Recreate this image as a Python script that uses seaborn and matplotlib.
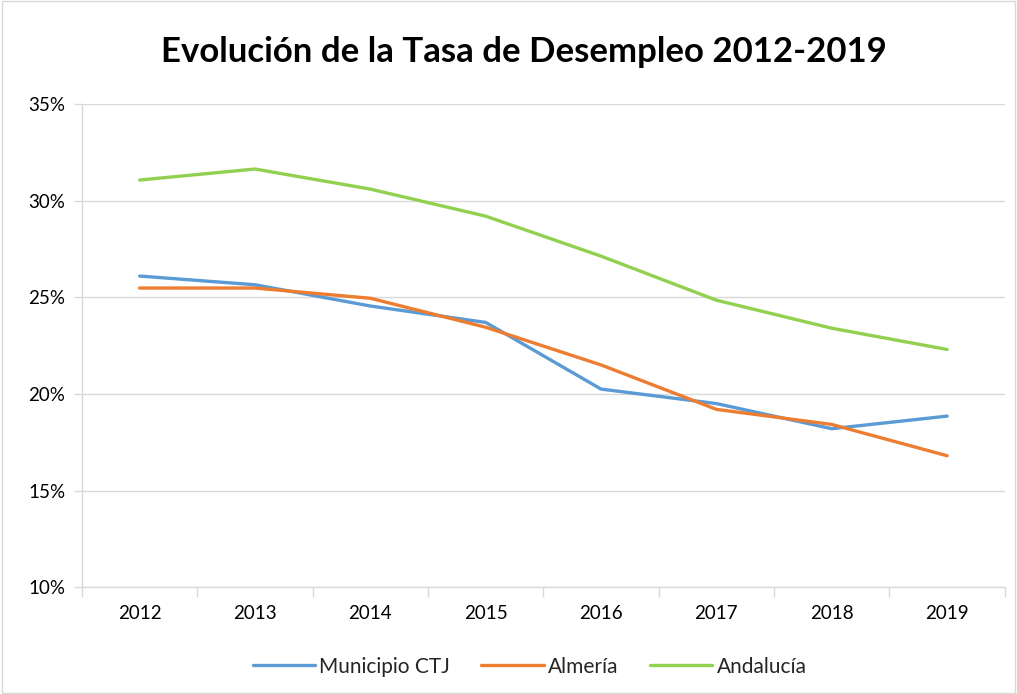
import matplotlib
matplotlib.use("Agg")
import matplotlib.pyplot as plt
import seaborn as sns
import pandas as pd
from matplotlib.patches import Rectangle
from matplotlib.ticker import FuncFormatter, FixedLocator

years = ["2012", "2013", "2014", "2015", "2016", "2017", "2018", "2019"]
municipio = [26.1, 25.65, 24.55, 23.7, 20.25, 19.5, 18.2, 18.85]
almeria = [25.48, 25.48, 24.95, 23.45, 21.5, 19.2, 18.42, 16.8]
andalucia = [31.07, 31.64, 30.6, 29.2, 27.13, 24.85, 23.4, 22.3]
series_names = ["Municipio CTJ", "Almería", "Andalucía"]
colors = ["#5B9BD5", "#ED7D31", "#92D050"]

rows = []
for name, vals in zip(series_names, [municipio, almeria, andalucia]):
    for i, (y, v) in enumerate(zip(years, vals)):
        rows.append({"pos": i, "year": y, "value": v, "serie": name})
df = pd.DataFrame(rows)

sns.set_theme(style="white")
plt.rcParams["font.family"] = ["Lato", "DejaVu Sans"]

fig = plt.figure(figsize=(10.17, 6.94), dpi=100)
ax = fig.add_axes([0.0806, 0.154, 0.9074, 0.696])

sns.lineplot(data=df, x="pos", y="value", hue="serie", palette=colors,
             hue_order=series_names, linewidth=2.4, ax=ax, legend=True)

ax.set_xlim(-0.5, len(years) - 0.5)
ax.set_ylim(10, 35)
ax.set_yticks([10, 15, 20, 25, 30, 35])
ax.yaxis.set_major_formatter(FuncFormatter(lambda v, p: f"{v:.0f}%"))
ax.set_xticks(range(len(years)))
ax.set_xticklabels(years)
ax.xaxis.set_minor_locator(FixedLocator([i - 0.5 for i in range(len(years) + 1)]))
ax.tick_params(axis="x", which="major", length=0, pad=13, labelsize=13.5, colors="#000000")
ax.tick_params(axis="x", which="minor", length=7, width=1, color="#d9d9d9", direction="out", bottom=True)
ax.tick_params(axis="y", which="major", length=6, width=1, color="#d9d9d9", direction="out", left=True,
               labelsize=13.5, pad=6, labelcolor="#000000")
ax.set_xlabel("")
ax.set_ylabel("")

ax.grid(axis="y", color="#d9d9d9", linewidth=1)
ax.grid(axis="x", visible=False)
for s in ["top", "right"]:
    ax.spines[s].set_visible(False)
for s in ["left", "bottom"]:
    ax.spines[s].set_color("#d9d9d9")
    ax.spines[s].set_linewidth(1)

ax.legend(loc="upper center", bbox_to_anchor=(0.485, -0.105), ncol=3, frameon=False,
          fontsize=15, handlelength=3.0, handletextpad=0.2, columnspacing=1.5)

fig.suptitle("Evolución de la Tasa de Desempleo 2012-2019", x=0.515, y=0.948,
             fontsize=25, fontweight="bold", color="#000000")

fig.patches.append(Rectangle((0.002, 0.002), 0.996, 0.996, transform=fig.transFigure,
                             fill=False, edgecolor="#d9d9d9", linewidth=1))

fig.savefig("out.png", dpi=100)
